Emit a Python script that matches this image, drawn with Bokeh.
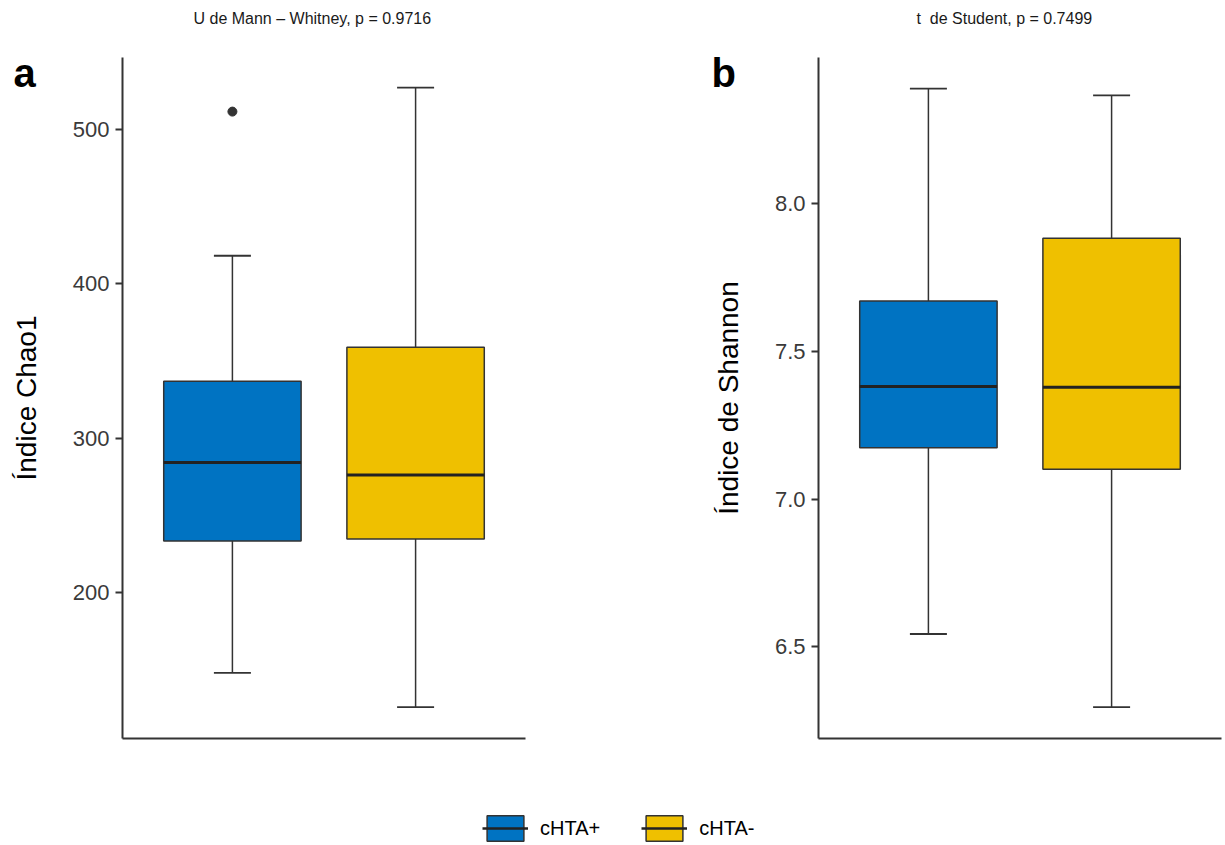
from bokeh.plotting import figure
from bokeh.models import (ColumnDataSource, Range1d, FixedTicker, PrintfTickFormatter,
                          Whisker, TeeHead, Label, Legend, LegendItem)
from bokeh.layouts import row, column
from bokeh.embed import file_html
from bokeh.resources import INLINE

# ---------------- data ----------------
groups = ["cHTA+", "cHTA-"]
colors = ["#0073C2", "#EFC000"]

chao1_lower = [147.7, 125.4]
chao1_q1 = [233.2, 234.5]
chao1_median = [284.2, 276.0]
chao1_q3 = [336.9, 359.0]
chao1_upper = [418.3, 527.3]
chao1_outlier_group = ["cHTA+"]
chao1_outlier_value = [511.8]
chao1_limits = (105.1, 546.9)

shannon_lower = [6.543, 6.295]
shannon_q1 = [7.174, 7.101]
shannon_median = [7.381, 7.379]
shannon_q3 = [7.671, 7.883]
shannon_upper = [8.390, 8.367]
shannon_limits = (6.189, 8.4956)

chao1_ticks = [200, 300, 400, 500]
shannon_ticks = [6.5, 7.0, 7.5, 8.0]

title_a = "U de Mann \u2013 Whitney, p = 0.9716"
title_b = "t\u00a0 de Student, p = 0.7499"
ylabel_a = "\u00cdndice Chao1"
ylabel_b = "\u00cdndice de Shannon"

FONT = "Liberation Sans"
DARK = "#333333"
BOX_W = 0.75
X_LIMITS = (0.4, 2.6)

# panel geometry (pixels inside each panel figure)
PANEL_H = 770
PANEL_TOP, PANEL_BOTTOM = 57, 738


def make_panel(lower, q1, med, q3, upper, ticks, ylimits, ylabel, title, tag,
               width, ax_left, ax_right, title_left, tag_left, fmt=None,
               out_groups=None, out_vals=None):
    # pixel -> data conversions for this panel
    def xd(px):
        return X_LIMITS[0] + (px - ax_left) * (X_LIMITS[1] - X_LIMITS[0]) / (ax_right - ax_left)

    def yd(py):
        return ylimits[0] + (PANEL_BOTTOM - py) * (ylimits[1] - ylimits[0]) / (PANEL_BOTTOM - PANEL_TOP)

    pos = [i + 1 for i in range(len(groups))]
    src = ColumnDataSource(dict(
        x=pos, x0=[p - BOX_W / 2 for p in pos], x1=[p + BOX_W / 2 for p in pos],
        lower=lower, q1=q1, med=med, q3=q3, upper=upper, color=colors, group=groups))
    p = figure(width=width, height=PANEL_H, output_backend="svg", toolbar_location=None,
               x_range=Range1d(xd(0), xd(width)), y_range=Range1d(yd(PANEL_H), yd(0)),
               min_border=0, min_border_left=0, min_border_right=0,
               min_border_top=0, min_border_bottom=0)
    p.outline_line_color = None
    p.grid.visible = False
    p.background_fill_color = "white"
    p.border_fill_color = "white"

    w = Whisker(base="x", lower="lower", upper="upper", source=src,
                line_color=DARK, line_width=1.5,
                upper_head=TeeHead(size=37, line_color=DARK, line_width=1.8),
                lower_head=TeeHead(size=37, line_color=DARK, line_width=1.8))
    p.add_layout(w)
    boxes = p.vbar(x="x", width=BOX_W, bottom="q1", top="q3", source=src,
                   fill_color="color", line_color=DARK, line_width=1.5)
    p.segment(x0="x0", x1="x1", y0="med", y1="med", source=src,
              line_color="#222222", line_width=3)
    if out_groups:
        ox = [groups.index(g) + 1 for g in out_groups]
        p.scatter(x=ox, y=out_vals, size=9, color=DARK)

    # axes, fixed at the panel edges
    p.xaxis.fixed_location = ylimits[0]
    p.xaxis.bounds = X_LIMITS
    p.xaxis.ticker = FixedTicker(ticks=[])
    p.xaxis.major_tick_line_color = None
    p.xaxis.minor_tick_line_color = None
    p.xaxis.major_label_text_font_size = "0px"
    p.yaxis.fixed_location = X_LIMITS[0]
    p.yaxis.bounds = ylimits
    for ax in (p.xaxis, p.yaxis):
        ax.axis_line_color = DARK
        ax.axis_line_width = 2
    p.yaxis.ticker = FixedTicker(ticks=ticks)
    if fmt:
        p.yaxis.formatter = PrintfTickFormatter(format=fmt)
    p.yaxis.minor_tick_line_color = None
    p.yaxis.major_tick_line_color = DARK
    p.yaxis.major_tick_line_width = 2
    p.yaxis.major_tick_out = 7
    p.yaxis.major_tick_in = 0
    p.yaxis.major_label_standoff = 6
    p.yaxis.major_label_text_font = FONT
    p.yaxis.major_label_text_font_size = "22px"
    p.yaxis.major_label_text_color = "#3A3A3A"
    p.yaxis.axis_label = ylabel
    p.yaxis.axis_label_text_font = FONT
    p.yaxis.axis_label_text_font_size = "28px"
    p.yaxis.axis_label_text_font_style = "normal"
    p.yaxis.axis_label_text_color = "#000000"
    p.yaxis.axis_label_standoff = 28

    p.add_layout(Label(x=xd(title_left), y=yd(18), text=title,
                       text_font=FONT, text_font_size="16px", text_font_style="normal",
                       text_color="#1A1A1A", text_baseline="middle", text_align="left"))
    p.add_layout(Label(x=xd(tag_left), y=yd(72), text=tag,
                       text_font=FONT, text_font_size="40px", text_font_style="bold",
                       text_color="#000000", text_baseline="alphabetic", text_align="left"))
    return p, boxes


pa, boxes_a = make_panel(chao1_lower, chao1_q1, chao1_median, chao1_q3, chao1_upper,
                         chao1_ticks, chao1_limits, ylabel_a, title_a, "a",
                         width=612, ax_left=122, ax_right=525, title_left=193, tag_left=13,
                         out_groups=chao1_outlier_group, out_vals=chao1_outlier_value)
pb, boxes_b = make_panel(shannon_lower, shannon_q1, shannon_median, shannon_q3, shannon_upper,
                         shannon_ticks, shannon_limits, ylabel_b, title_b, "b",
                         width=613, ax_left=206, ax_right=609, title_left=304, tag_left=99,
                         fmt="%.1f")

# ---------------- legend strip ----------------
pl = figure(width=1225, height=75, output_backend="svg", toolbar_location=None,
            x_range=Range1d(0.4, 2.6), y_range=Range1d(0, 1),
            min_border_left=0, min_border_right=0, min_border_top=0, min_border_bottom=0)
pl.outline_line_color = None
pl.grid.visible = False
pl.axis.visible = False
items = []
for i, g in enumerate(groups):
    r_box = pl.vbar(x=[i + 1], width=BOX_W, bottom=[chao1_q1[i]], top=[chao1_q3[i]],
                    fill_color=colors[i], line_color=DARK, line_width=1.5, visible=False)
    r_med = pl.segment(x0=[i + 1 - BOX_W / 2], x1=[i + 1 + BOX_W / 2],
                       y0=[chao1_median[i]], y1=[chao1_median[i]],
                       line_color="#222222", line_width=2.5, visible=False)
    items.append(LegendItem(label=g, renderers=[r_box, r_med]))
legend = Legend(items=items, orientation="horizontal", location=(482, 1),
                glyph_width=46, glyph_height=32, label_standoff=12, spacing=41,
                padding=0, margin=0, label_text_font=FONT, label_text_font_size="20px",
                label_text_color="#000000", background_fill_alpha=0, border_line_alpha=0)
pl.add_layout(legend, "center")

layout = column(row(pa, pb), pl)

open("out.html", "w").write(file_html(layout, INLINE))
